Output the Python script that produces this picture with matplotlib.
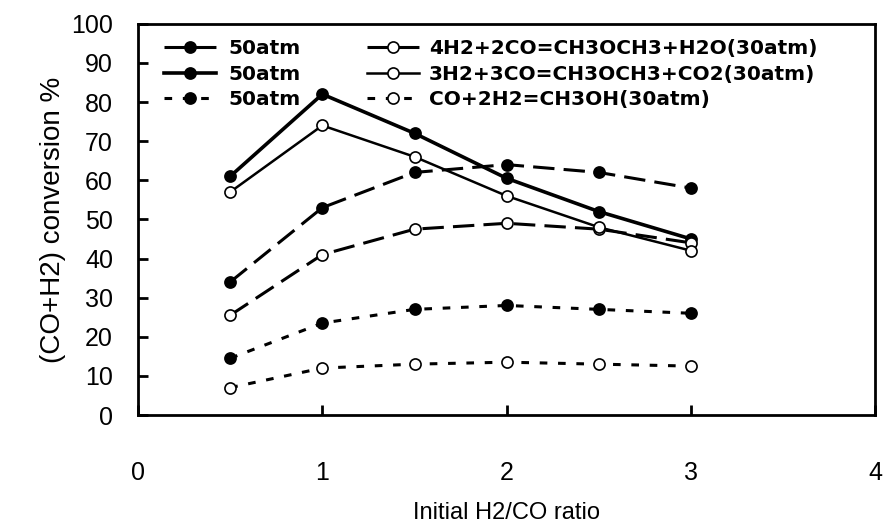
import matplotlib
matplotlib.use('Agg')
import matplotlib.pyplot as plt

plt.rcParams['font.family'] = ['Liberation Sans', 'DejaVu Sans']

# ---- data ----
ratio = [0.5, 1.0, 1.5, 2.0, 2.5, 3.0]
dme_h2o_50 = [34, 53, 62, 64, 62, 58]
dme_co2_50 = [61, 82, 72, 60.5, 52, 45]
meoh_50 = [14.5, 23.5, 27, 28, 27, 26]
dme_h2o_30 = [25.5, 41, 47.5, 49, 47.5, 44]
dme_co2_30 = [57, 74, 66, 56, 48, 42]
meoh_30 = [7, 12, 13, 13.5, 13, 12.5]

left_labels = ['50atm', '50atm', '50atm']
right_labels = ['4H2+2CO=CH3OCH3+H2O(30atm)',
                '3H2+3CO=CH3OCH3+CO2(30atm)',
                'CO+2H2=CH3OH(30atm)']

DASH = (0, (7, 3))
DOT = (0, (2.5, 3.5))

fig = plt.figure(figsize=(8.85, 5.28), dpi=100)
ax = fig.add_axes([0.156, 0.214, 0.833, 0.741])

styles = [
    (dme_h2o_50, DASH, 2.2, 'k'),
    (dme_co2_50, '-', 2.6, 'k'),
    (meoh_50, DOT, 2.2, 'k'),
    (dme_h2o_30, DASH, 2.2, 'w'),
    (dme_co2_30, '-', 1.8, 'w'),
    (meoh_30, DOT, 2.2, 'w'),
]
handles = []
for vals, ls, lw, mfc in styles:
    h, = ax.plot(ratio, vals, color='k', linestyle=ls, linewidth=lw,
                 marker='o', markersize=8, markerfacecolor=mfc,
                 markeredgecolor='k', markeredgewidth=1.2)
    handles.append(h)

ax.set_xlim(0, 4)
ax.set_ylim(0, 100)
ax.set_xticks([0, 1, 2, 3, 4])
ax.set_yticks(range(0, 101, 10))
ax.tick_params(axis='x', direction='in', length=7, width=2, pad=33, labelsize=18)
ax.tick_params(axis='y', direction='in', length=7, width=2, pad=18, labelsize=18)
for s in ax.spines.values():
    s.set_linewidth(2)

ax.set_xlabel('Initial H2/CO ratio', fontsize=17, labelpad=12)
ax.set_ylabel('(CO+H2) conversion %', fontsize=20, labelpad=4)

legend_font = {'family': 'DejaVu Sans', 'weight': 'bold', 'size': 14.5}
leg1 = ax.legend(handles[:3], left_labels, loc='upper left',
                 bbox_to_anchor=(0.035, 0.96), frameon=False, prop=legend_font,
                 handlelength=2.6, handletextpad=0.6, labelspacing=0.32,
                 borderaxespad=0.0, borderpad=0.0)
ax.add_artist(leg1)
ax.legend(handles[3:], right_labels, loc='upper left',
          bbox_to_anchor=(0.31, 0.96), frameon=False, prop=legend_font,
          handlelength=2.6, handletextpad=0.5, labelspacing=0.32,
          borderaxespad=0.0, borderpad=0.0)

fig.savefig('out.png', dpi=100)
